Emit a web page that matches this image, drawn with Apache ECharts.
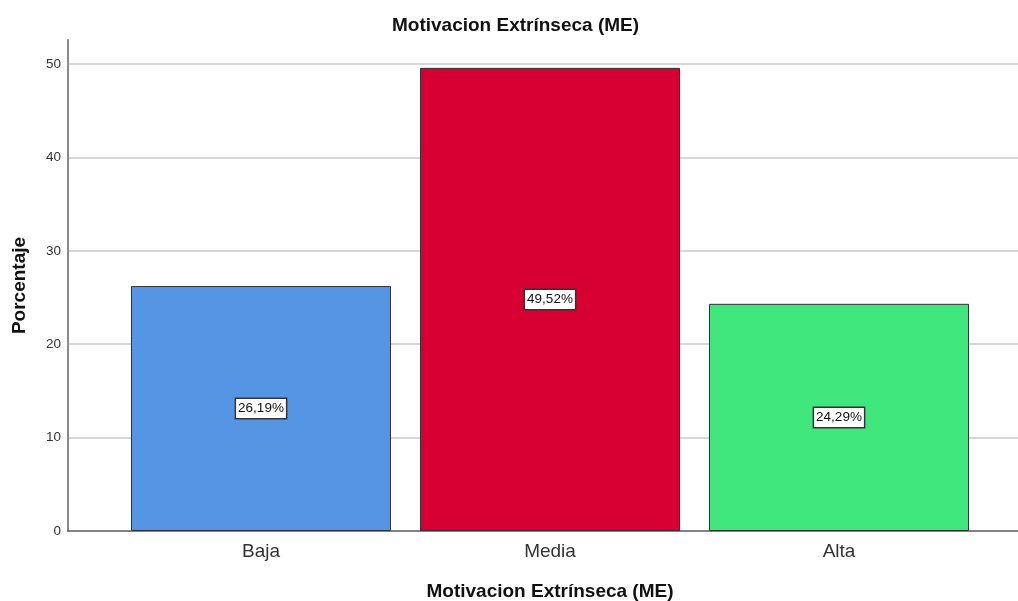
<!DOCTYPE html>
<html>
<head>
<meta charset="utf-8">
<script src="https://cdn.jsdelivr.net/npm/echarts@6/dist/echarts.min.js"></script>
<style>html,body{margin:0;padding:0;background:#fff;}#c{width:1018px;height:601px;}</style>
</head>
<body>
<div id="c"></div>
<script>
var categories = ['Baja', 'Media', 'Alta'];
var values = [26.19, 49.52, 24.29];
var colors = ['#5595e3', '#d60032', '#40e77d'];
var yTicks = [0, 10, 20, 30, 40, 50];

var chart = echarts.init(document.getElementById('c'));
var font = '"Liberation Sans", Arial, sans-serif';
chart.setOption({
  animation: false,
  backgroundColor: '#fff',
  title: {
    text: 'Motivacion Extrínseca (ME)',
    left: 387, top: 11,
    textStyle: {fontFamily: font, fontSize: 19, fontWeight: 'bold', color: '#111'}
  },
  grid: [
    {left: 68, right: 0, top: 64, height: 467, containLabel: false, outerBoundsMode: 'none'},
    {left: 116.5, width: 867, top: 40, height: 491, containLabel: false, outerBoundsMode: 'none'},
    {left: 68, right: 0, top: 40, height: 491, containLabel: false, outerBoundsMode: 'none'}
  ],
  xAxis: [
    {gridIndex: 0, type: 'value', min: 0, max: 1, show: false},
    {gridIndex: 1, type: 'category', data: categories,
      axisLine: {show: false}, axisTick: {show: false},
      axisLabel: {fontFamily: font, fontSize: 19, color: '#333', margin: 11},
      name: 'Motivacion Extrínseca (ME)', nameLocation: 'middle', nameGap: 51,
      nameTextStyle: {fontFamily: font, fontSize: 19, fontWeight: 'bold', color: '#111'}},
    {gridIndex: 2, type: 'value', min: 0, max: 1, show: true,
      axisLine: {show: true, onZero: false, lineStyle: {color: '#666', width: 1.5}},
      axisTick: {show: false}, axisLabel: {show: false}, splitLine: {show: false}}
  ],
  yAxis: [
    {gridIndex: 0, type: 'value', min: 0, max: 50, interval: 10,
      axisLine: {show: false},
      axisTick: {show: false},
      axisLabel: {fontFamily: font, fontSize: 13.5, color: '#333', margin: 7,
        formatter: function (v) { return yTicks.indexOf(v) >= 0 ? String(v) : ''; }},
      splitLine: {show: true, lineStyle: {color: '#d6d6d6', width: 2}}},
    {gridIndex: 1, type: 'value', min: 0, max: 52.5, show: false},
    {gridIndex: 2, type: 'value', min: 0, max: 1,
      axisLine: {show: true, lineStyle: {color: '#888', width: 2}},
      axisTick: {show: false}, axisLabel: {show: false}, splitLine: {show: false},
      name: 'Porcentaje', nameLocation: 'middle', nameGap: 39, nameRotate: 90,
      nameTextStyle: {fontFamily: font, fontSize: 19, fontWeight: 'bold', color: '#111'}}
  ],
  series: [{
    type: 'bar', xAxisIndex: 1, yAxisIndex: 1,
    barWidth: 260,
    data: values.map(function (v, i) {
      return {value: v, itemStyle: {color: colors[i], borderColor: '#333', borderWidth: 1}};
    }),
    label: {
      show: true, position: 'inside',
      fontFamily: font, fontSize: 13.5, color: '#111',
      backgroundColor: '#fff', borderColor: '#333', borderWidth: 1.5,
      padding: [3, 2, 2, 2],
      formatter: function (p) { return p.value.toFixed(2).replace('.', ',') + '%'; }
    }
  }]
});
</script>
</body>
</html>
